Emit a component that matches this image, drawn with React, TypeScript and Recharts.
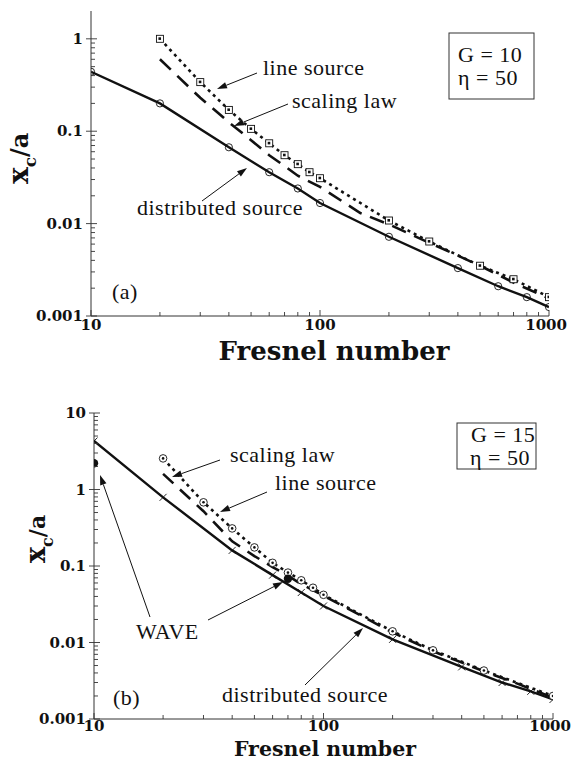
import React from 'react';
import { LineChart, Line, XAxis, YAxis } from 'recharts';

// ---------- Panel (a): G = 10, eta = 50 ----------
const aDistributedX = [10, 20, 40, 60, 80, 100, 200, 400, 600, 800, 1000];
const aDistributedY = [0.44, 0.2, 0.067, 0.036, 0.024, 0.0167, 0.0072, 0.0033, 0.0021, 0.0016, 0.00125];
const aLineSourceX = [20, 30, 40, 50, 60, 70, 80, 90, 100, 200, 300, 500, 700, 1000];
const aLineSourceY = [1.0, 0.34, 0.17, 0.106, 0.074, 0.055, 0.044, 0.036, 0.031, 0.0108, 0.0064, 0.0035, 0.0025, 0.0016];
const aScalingX = [20, 30, 40, 50, 60, 70, 80, 100, 150, 200, 300, 400, 500, 700, 1000];
const aScalingY = [0.6, 0.23, 0.125, 0.08, 0.055, 0.042, 0.033, 0.025, 0.013, 0.0098, 0.0062, 0.0045, 0.0035, 0.0023, 0.00155];

// ---------- Panel (b): G = 15, eta = 50 ----------
const bDistributedX = [10, 20, 40, 60, 80, 100, 200, 400, 600, 800, 1000];
const bDistributedY = [4.3, 0.79, 0.16, 0.076, 0.045, 0.03, 0.011, 0.0048, 0.003, 0.0023, 0.0018];
const bLineSourceX = [20, 30, 40, 50, 60, 70, 80, 90, 100, 200, 300, 500, 1000];
const bLineSourceY = [2.55, 0.68, 0.31, 0.175, 0.11, 0.082, 0.065, 0.052, 0.042, 0.014, 0.0079, 0.0043, 0.002];
const bScalingX = [20, 30, 40, 50, 60, 70, 80, 100, 200, 300, 500, 700, 1000];
const bScalingY = [1.6, 0.52, 0.21, 0.135, 0.097, 0.075, 0.058, 0.041, 0.0135, 0.0077, 0.0042, 0.0029, 0.0019];
const bWaveX = [10, 70];
const bWaveY = [2.2, 0.068];

// ---------- Ticks ----------
const xMajorTicks = [10, 100, 1000];
const xTickLabels = ['10', '100', '1000'];
const xMinorTicks = [20, 30, 40, 50, 60, 70, 80, 90, 200, 300, 400, 500, 600, 700, 800, 900];
const aYMajorTicks = [0.001, 0.01, 0.1, 1];
const aYTickLabels = ['0.001', '0.01', '0.1', '1'];
const aYMinorTicks = [0.002, 0.003, 0.004, 0.005, 0.006, 0.007, 0.008, 0.009, 0.02, 0.03, 0.04, 0.05, 0.06, 0.07, 0.08, 0.09, 0.2, 0.3, 0.4, 0.5, 0.6, 0.7, 0.8, 0.9];
const bYMajorTicks = [0.001, 0.01, 0.1, 1, 10];
const bYTickLabels = ['0.001', '0.01', '0.1', '1', '10'];
const bYMinorTicks = [...aYMinorTicks, 2, 3, 4, 5, 6, 7, 8, 9];

const zip = (xs: number[], ys: number[]) => xs.map((x, i) => ({ x, y: ys[i] }));

const TICK_FONT = '"DejaVu Serif", "Liberation Serif", serif';
const TEXT_FONT = '"Liberation Serif", "Times New Roman", serif';
const INK = '#111';

type Side = 'bottom' | 'top' | 'left' | 'right';
const makeTick = (side: Side, majors: number[], labels: string[] | null, labelDy = 14) => (props: any) => {
  const { x, y, payload, index } = props;
  const v = Number(payload.value);
  const mi = majors.findIndex((m) => Math.abs(m - v) <= m * 1e-6);
  const major = mi >= 0;
  const inward = major ? 6 : 4;
  const outward = major ? (side === 'bottom' ? 0 : 5) : 0;
  let x1 = x, x2 = x, y1 = y, y2 = y;
  if (side === 'bottom') { y1 = y + outward; y2 = y - inward; }
  if (side === 'top') { y1 = y - outward; y2 = y + inward; }
  if (side === 'left') { x1 = x - outward; x2 = x + inward; }
  if (side === 'right') { x1 = x + outward; x2 = x - inward; }
  let label: React.ReactNode = null;
  if (major && labels) {
    if (side === 'bottom') {
      const last = mi === labels.length - 1;
      label = (
        <text x={last ? x + 18 : x} y={y + labelDy} textAnchor={last ? 'end' : 'middle'} fontFamily={TICK_FONT} fontWeight="bold" fontSize={15} fill={INK}>
          {labels[mi]}
        </text>
      );
    } else if (side === 'left') {
      label = (
        <text x={x - 8} y={y + 5} textAnchor="end" fontFamily={TICK_FONT} fontWeight="bold" fontSize={15} fill={INK}>
          {labels[mi]}
        </text>
      );
    }
  }
  return (
    <g key={`t-${side}-${index}`}>
      <line x1={x1} y1={y1} x2={x2} y2={y2} stroke="#333" strokeWidth={0.9} />
      {label}
    </g>
  );
};

const openCircle = (p: any) => (
  <circle key={`oc${p.index}`} cx={p.cx} cy={p.cy} r={3.6} fill="none" stroke={INK} strokeWidth={0.9} />
);
const dotSquare = (p: any) => (
  <g key={`sq${p.index}`}>
    <rect x={p.cx - 3.5} y={p.cy - 3.5} width={7} height={7} fill="#fff" stroke={INK} strokeWidth={0.9} />
    <rect x={p.cx - 1.5} y={p.cy - 1.5} width={2.6} height={2.6} fill={INK} />
  </g>
);
const crossMark = (p: any) => (
  <g key={`cr${p.index}`}>
    <line x1={p.cx - 3.5} y1={p.cy - 3.5} x2={p.cx + 3.5} y2={p.cy + 3.5} stroke={INK} strokeWidth={0.9} />
    <line x1={p.cx - 3.5} y1={p.cy + 3.5} x2={p.cx + 3.5} y2={p.cy - 3.5} stroke={INK} strokeWidth={0.9} />
  </g>
);
const dotCircle = (p: any) => (
  <g key={`dc${p.index}`}>
    <circle cx={p.cx} cy={p.cy} r={3.8} fill="#fff" stroke={INK} strokeWidth={0.9} />
    <circle cx={p.cx} cy={p.cy} r={1.3} fill={INK} />
  </g>
);
const filledCircle = (p: any) => (
  <circle key={`fc${p.index}`} cx={p.cx} cy={p.cy} r={4.2} fill={INK} stroke="none" />
);

const frameAxes = (yDomain: [number, number], yMajor: number[], yLabels: string[], yMinor: number[], yWidth: number, xHeight: number, labelDy: number) => {
  const xTicks = [...xMajorTicks, ...xMinorTicks];
  const yTicks = [...yMajor, ...yMinor];
  return [
    <XAxis key="xb" xAxisId="x" dataKey="x" type="number" scale="log" domain={[10, 1000]} allowDataOverflow
      ticks={xTicks} interval={0} tickSize={0} tickMargin={0} height={xHeight}
      axisLine={{ stroke: '#333', strokeWidth: 1 }} tickLine={false} tick={makeTick('bottom', xMajorTicks, xTickLabels, labelDy)} />,
    <XAxis key="xt" xAxisId="xt" orientation="top" dataKey="x" type="number" scale="log" domain={[10, 1000]} allowDataOverflow
      ticks={xTicks} interval={0} tickSize={0} tickMargin={0} height={0}
      axisLine={{ stroke: '#333', strokeWidth: 1 }} tickLine={false} tick={makeTick('top', xMajorTicks, null)} />,
    <YAxis key="yl" yAxisId="y" type="number" scale="log" domain={yDomain} allowDataOverflow
      ticks={yTicks} interval={0} tickSize={0} tickMargin={0} width={yWidth}
      axisLine={{ stroke: '#333', strokeWidth: 1 }} tickLine={false} tick={makeTick('left', yMajor, yLabels)} />,
    <YAxis key="yr" yAxisId="yr" orientation="right" type="number" scale="log" domain={yDomain} allowDataOverflow
      ticks={yTicks} interval={0} tickSize={0} tickMargin={0} width={0}
      axisLine={{ stroke: '#333', strokeWidth: 1 }} tickLine={false} tick={makeTick('right', yMajor, null)} />,
  ];
};

const Arrow = ({ x1, y1, x2, y2 }: { x1: number; y1: number; x2: number; y2: number }) => {
  const ang = Math.atan2(y2 - y1, x2 - x1);
  const L = 10, W = 3.3;
  const bx = x2 - L * Math.cos(ang), by = y2 - L * Math.sin(ang);
  const px = -Math.sin(ang) * W, py = Math.cos(ang) * W;
  return (
    <g>
      <line x1={x1} y1={y1} x2={bx} y2={by} stroke={INK} strokeWidth={1} />
      <polygon points={`${x2},${y2} ${bx + px},${by + py} ${bx - px},${by - py}`} fill={INK} />
    </g>
  );
};

const T = (props: any) => <text fontFamily={TEXT_FONT} fontSize={22} letterSpacing={0.5} fill={INK} {...props} />;

export default function App() {
  return (
    <div style={{ position: 'absolute', left: 0, top: 0, width: 572, height: 761, background: '#fff' }}>
      <div style={{ position: 'absolute', left: 0, top: 0 }}>
        <LineChart width={572} height={370} margin={{ top: 11, right: 23, left: 0, bottom: 0 }}>
          {frameAxes([0.001, 2], aYMajorTicks, aYTickLabels, aYMinorTicks, 91, 54, 14)}
          <Line data={zip(aDistributedX, aDistributedY)} dataKey="y" xAxisId="x" yAxisId="y" type="linear"
            stroke={INK} strokeWidth={2.4} dot={openCircle} activeDot={false} isAnimationActive={false} />
          <Line data={zip(aScalingX, aScalingY)} dataKey="y" xAxisId="x" yAxisId="y" type="linear"
            stroke={INK} strokeWidth={2.6} strokeDasharray="15 9" dot={false} activeDot={false} isAnimationActive={false} />
          <Line data={zip(aLineSourceX, aLineSourceY)} dataKey="y" xAxisId="x" yAxisId="y" type="linear"
            stroke={INK} strokeWidth={2.6} strokeDasharray="3 4" dot={dotSquare} activeDot={false} isAnimationActive={false} />
        </LineChart>
      </div>
      <div style={{ position: 'absolute', left: 0, top: 380 }}>
        <LineChart width={572} height={381} margin={{ top: 33, right: 19, left: 0, bottom: 0 }}>
          {frameAxes([0.001, 10], bYMajorTicks, bYTickLabels, bYMinorTicks, 94, 42, 12)}
          <Line data={zip(bDistributedX, bDistributedY)} dataKey="y" xAxisId="x" yAxisId="y" type="linear"
            stroke={INK} strokeWidth={2.4} dot={crossMark} activeDot={false} isAnimationActive={false} />
          <Line data={zip(bScalingX, bScalingY)} dataKey="y" xAxisId="x" yAxisId="y" type="linear"
            stroke={INK} strokeWidth={2.6} strokeDasharray="14 9" dot={false} activeDot={false} isAnimationActive={false} />
          <Line data={zip(bLineSourceX, bLineSourceY)} dataKey="y" xAxisId="x" yAxisId="y" type="linear"
            stroke={INK} strokeWidth={2.6} strokeDasharray="3 4" dot={dotCircle} activeDot={false} isAnimationActive={false} />
          <Line data={zip(bWaveX, bWaveY)} dataKey="y" xAxisId="x" yAxisId="y" type="linear"
            stroke="none" strokeWidth={0} dot={filledCircle} activeDot={false} isAnimationActive={false} />
        </LineChart>
      </div>
      <svg width={572} height={761} style={{ position: 'absolute', left: 0, top: 0, pointerEvents: 'none' }}>
        {/* Panel (a) annotations */}
        <T x={263} y={75}>line source</T>
        <Arrow x1={257} y1={73} x2={217} y2={89} />
        <T x={292} y={108}>scaling law</T>
        <Arrow x1={288} y1={104} x2={234} y2={126} />
        <T x={137} y={215}>distributed source</T>
        <Arrow x1={202} y1={201} x2={247} y2={168} />
        <rect x={449} y={33} width={85} height={66} fill="#fff" stroke="#333" strokeWidth={1} />
        <T x={458} y={62}>G = 10</T>
        <T x={458} y={85}>η = 50</T>
        <T x={112} y={299}>(a)</T>
        <text x={334} y={360} textAnchor="middle" fontFamily={TICK_FONT} fontWeight="bold" fontSize={26} fill={INK}>Fresnel number</text>
        <text transform="translate(28,184) rotate(-90)" fontFamily={TICK_FONT} fontWeight="bold" fill={INK}>
          <tspan fontSize={28}>x</tspan>
          <tspan fontSize={17} dy={8}>c</tspan>
          <tspan fontSize={24} dy={-8}>/a</tspan>
        </text>

        {/* Panel (b) annotations */}
        <rect x={457} y={423} width={79} height={46} fill="#fff" stroke="#333" strokeWidth={1} />
        <T x={471} y={442}>G = 15</T>
        <T x={470} y={465}>η = 50</T>
        <T x={230} y={462}>scaling law</T>
        <Arrow x1={220} y1={460} x2={172} y2={477} />
        <T x={275} y={490}>line source</T>
        <Arrow x1={267} y1={492} x2={220} y2={512} />
        <T x={136} y={639}>WAVE</T>
        <Arrow x1={150} y1={617} x2={100} y2={475} />
        <Arrow x1={208} y1={620} x2={283} y2={582} />
        <T x={222} y={702}>distributed source</T>
        <Arrow x1={305} y1={685} x2={363} y2={628} />
        <T x={113} y={705}>(b)</T>
        <text x={325} y={755.5} textAnchor="middle" fontFamily={TICK_FONT} fontWeight="bold" fontSize={20.5} fill={INK}>Fresnel number</text>
        <text transform="translate(45,563) rotate(-90)" fontFamily={TICK_FONT} fontWeight="bold" fill={INK}>
          <tspan fontSize={27}>x</tspan>
          <tspan fontSize={16} dy={8}>c</tspan>
          <tspan fontSize={22} dy={-8}>/a</tspan>
        </text>
      </svg>
    </div>
  );
}
